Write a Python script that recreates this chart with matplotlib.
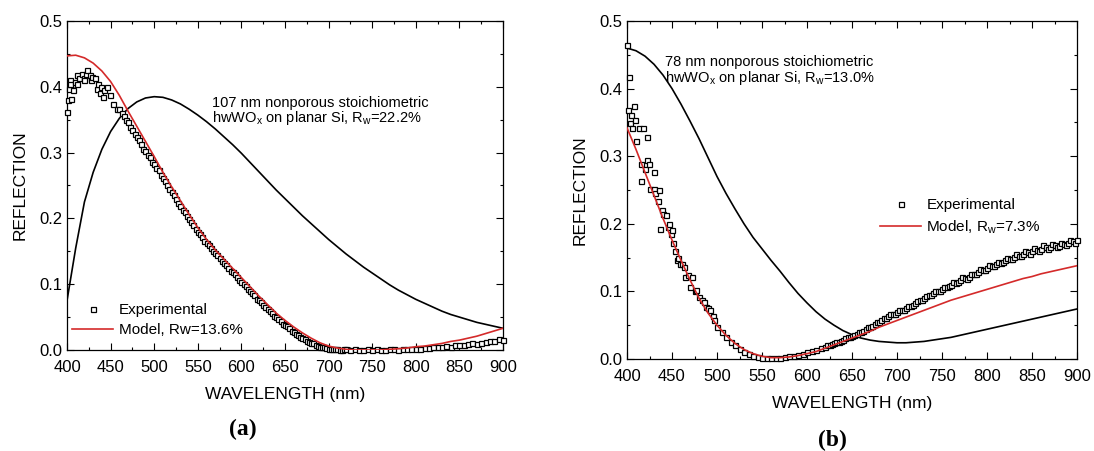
import numpy as np
import matplotlib
matplotlib.use("Agg")
import matplotlib.pyplot as plt
from matplotlib.ticker import MultipleLocator

plt.rcParams['font.family'] = ['Liberation Sans', 'DejaVu Sans']
plt.rcParams['mathtext.default'] = 'regular'

# ---------------- panel (a): 107 nm film ----------------
wl_model_a = list(range(400, 901, 10))
model_a = [0.447, 0.448, 0.444, 0.436, 0.424, 0.408, 0.387, 0.363, 0.340, 0.317,
           0.294, 0.270, 0.248, 0.227, 0.206, 0.186, 0.168, 0.152, 0.138, 0.124,
           0.110, 0.096, 0.082, 0.069, 0.056, 0.045, 0.035, 0.026, 0.018, 0.011,
           0.006, 0.003, 0.001, 0.000, 0.000, 0.000, 0.000, 0.001, 0.002, 0.003,
           0.005, 0.006, 0.008, 0.010, 0.013, 0.015, 0.018, 0.021, 0.025, 0.029,
           0.033]
theory_a = [0.075, 0.155, 0.225, 0.270, 0.305, 0.332, 0.352, 0.367, 0.377, 0.383,
            0.385, 0.384, 0.380, 0.374, 0.366, 0.357, 0.347, 0.336, 0.324, 0.312,
            0.299, 0.285, 0.271, 0.257, 0.243, 0.230, 0.217, 0.204, 0.192, 0.180,
            0.168, 0.157, 0.146, 0.136, 0.126, 0.117, 0.108, 0.099, 0.091, 0.084,
            0.077, 0.071, 0.065, 0.059, 0.054, 0.050, 0.046, 0.042, 0.039, 0.036,
            0.033]

# noisy start, then a dense band every 2.5 nm, then every 5 nm
wl_exp_a = ([400, 401, 402, 403, 404, 405, 407, 409, 411, 412, 414, 417, 419, 420,
             422, 423, 426, 428, 429, 432, 434, 436, 438, 439, 441, 443, 446, 449,
             453, 457]
            + list(np.arange(460, 719, 2.5))
            + list(range(720, 901, 5)))
exp_a = [0.362, 0.380, 0.397, 0.410, 0.405, 0.381, 0.395, 0.408, 0.418, 0.405,
         0.413, 0.420, 0.413, 0.410, 0.419, 0.425, 0.418, 0.410, 0.415, 0.413,
         0.397, 0.405, 0.390, 0.400, 0.385, 0.395, 0.400, 0.387, 0.374, 0.367,
         # 460 - 717.5
         0.366, 0.360, 0.356, 0.350, 0.346, 0.339, 0.335, 0.328,
         0.324, 0.319, 0.313, 0.306, 0.302, 0.296, 0.293, 0.286,
         0.283, 0.277, 0.273, 0.266, 0.262, 0.257, 0.251, 0.244,
         0.240, 0.235, 0.229, 0.223, 0.219, 0.213, 0.209, 0.203,
         0.199, 0.195, 0.190, 0.184, 0.180, 0.177, 0.172, 0.166,
         0.163, 0.159, 0.155, 0.150, 0.147, 0.144, 0.140, 0.135,
         0.132, 0.129, 0.125, 0.120, 0.118, 0.115, 0.111, 0.106,
         0.104, 0.101, 0.097, 0.092, 0.090, 0.087, 0.083, 0.078,
         0.076, 0.073, 0.069, 0.065, 0.063, 0.059, 0.056, 0.052,
         0.050, 0.047, 0.044, 0.040, 0.038, 0.036, 0.033, 0.029,
         0.027, 0.025, 0.023, 0.020, 0.018, 0.016, 0.014, 0.012,
         0.011, 0.010, 0.008, 0.006, 0.005, 0.005, 0.004, 0.003,
         0.002, 0.002, 0.001, 0.001, 0.001, 0.000, 0.000, 0.001,
         # 720 - 900
         0.001, 0.000, 0.001, 0.000, 0.000, 0.001, 0.000, 0.001,
         0.000, 0.000, 0.001, 0.001, 0.000, 0.001, 0.002, 0.001,
         0.002, 0.002, 0.003, 0.003, 0.004, 0.004, 0.005, 0.006,
         0.005, 0.007, 0.007, 0.008, 0.009, 0.010, 0.009, 0.011,
         0.012, 0.013, 0.014, 0.016, 0.015]

# ---------------- panel (b): 78 nm film ----------------
wl_model_b = list(range(400, 901, 10))
model_b = [0.342, 0.310, 0.276, 0.242, 0.208, 0.176, 0.146, 0.117, 0.090, 0.068,
           0.050, 0.035, 0.023, 0.014, 0.008, 0.004, 0.002, 0.002, 0.003, 0.005,
           0.008, 0.011, 0.016, 0.021, 0.026, 0.031, 0.036, 0.041, 0.047, 0.052,
           0.057, 0.062, 0.067, 0.072, 0.077, 0.082, 0.087, 0.091, 0.095, 0.099,
           0.103, 0.107, 0.111, 0.115, 0.119, 0.122, 0.126, 0.129, 0.132, 0.135,
           0.138]
theory_b = [0.460, 0.456, 0.448, 0.436, 0.420, 0.400, 0.377, 0.352, 0.326, 0.298,
            0.270, 0.245, 0.222, 0.200, 0.180, 0.163, 0.146, 0.130, 0.113, 0.097,
            0.083, 0.070, 0.059, 0.050, 0.042, 0.036, 0.031, 0.028, 0.026, 0.025,
            0.024, 0.024, 0.025, 0.026, 0.028, 0.030, 0.032, 0.035, 0.038, 0.041,
            0.044, 0.047, 0.050, 0.053, 0.056, 0.059, 0.062, 0.065, 0.068, 0.071,
            0.074]

wl_exp_b = ([400, 401, 402, 403, 404, 405, 408, 409, 410, 413, 416, 416, 418, 420,
             422, 422, 424, 426, 430, 430, 431, 434, 435, 437, 439, 440, 443, 446,
             447, 449, 450, 451, 453, 455, 457, 459, 461, 463, 464, 468, 470, 472,
             475, 477, 480, 483, 485, 488, 490, 492, 495, 497]
            + list(range(500, 616, 5))
            + list(np.arange(620, 901, 2.5)))
exp_b = [0.465, 0.369, 0.417, 0.349, 0.361, 0.342, 0.375, 0.354, 0.323, 0.342,
         0.288, 0.264, 0.342, 0.281, 0.329, 0.294, 0.288, 0.251, 0.276, 0.252,
         0.245, 0.233, 0.250, 0.192, 0.220, 0.215, 0.213, 0.196, 0.200, 0.185,
         0.191, 0.171, 0.160, 0.147, 0.150, 0.141, 0.140, 0.136, 0.121, 0.124,
         0.107, 0.121, 0.100, 0.102, 0.092, 0.087, 0.085, 0.077, 0.075, 0.072,
         0.063, 0.058,
         # 500 - 615
         0.048, 0.040, 0.032, 0.025, 0.020, 0.015, 0.011, 0.008, 0.005, 0.003,
         0.002, 0.001, 0.002, 0.001, 0.002, 0.003, 0.004, 0.005, 0.006, 0.008,
         0.010, 0.012, 0.013, 0.016,
         # 620 - 900
         0.018, 0.020, 0.020, 0.022, 0.023, 0.025, 0.025, 0.027,
         0.028, 0.031, 0.032, 0.032, 0.034, 0.036, 0.037, 0.040,
         0.040, 0.042, 0.044, 0.047, 0.048, 0.049, 0.052, 0.055,
         0.055, 0.058, 0.060, 0.060, 0.063, 0.066, 0.066, 0.067,
         0.069, 0.072, 0.072, 0.073, 0.076, 0.079, 0.079, 0.080,
         0.083, 0.086, 0.087, 0.087, 0.090, 0.093, 0.094, 0.094,
         0.097, 0.101, 0.100, 0.101, 0.104, 0.107, 0.106, 0.108,
         0.110, 0.114, 0.113, 0.114, 0.117, 0.121, 0.120, 0.119,
         0.122, 0.126, 0.126, 0.126, 0.129, 0.133, 0.131, 0.132,
         0.135, 0.139, 0.137, 0.137, 0.140, 0.144, 0.142, 0.143,
         0.146, 0.150, 0.148, 0.148, 0.151, 0.155, 0.153, 0.152,
         0.155, 0.160, 0.158, 0.156, 0.160, 0.164, 0.161, 0.160,
         0.163, 0.168, 0.165, 0.163, 0.166, 0.170, 0.168, 0.165,
         0.167, 0.172, 0.170, 0.168, 0.172, 0.176, 0.174, 0.172,
         0.176]

red = '#d42a2a'


def style_axes(ax):
    ax.set_xlim(400, 900)
    ax.set_ylim(0, 0.5)
    ax.xaxis.set_major_locator(MultipleLocator(50))
    ax.xaxis.set_minor_locator(MultipleLocator(25))
    ax.yaxis.set_major_locator(MultipleLocator(0.1))
    ax.yaxis.set_minor_locator(MultipleLocator(0.05))
    ax.yaxis.set_major_formatter(plt.FormatStrFormatter('%.1f'))
    ax.tick_params(which='both', direction='in', top=True, right=True,
                   labelsize=12, width=0.8)
    ax.tick_params(axis='x', which='major', pad=7)
    ax.tick_params(axis='y', which='major', pad=3)
    ax.tick_params(which='major', length=5)
    ax.tick_params(which='minor', length=2.5)
    for s in ax.spines.values():
        s.set_linewidth(0.9)
    ax.set_ylabel('REFLECTION', fontsize=12.5, labelpad=9)
    ax.set_xlabel('WAVELENGTH (nm)', fontsize=12.5, labelpad=9)


fig = plt.figure(figsize=(10.94, 4.51), dpi=100)

ax1 = fig.add_axes([67 / 1094, 1 - 350 / 451, 436 / 1094, 329 / 451])
ax1.plot(wl_model_a, theory_a, color='black', lw=1.2)
ax1.plot(wl_exp_a, exp_a, 's', ms=3.6, mfc='white', mec='black', mew=0.9,
         label='Experimental', clip_on=False, zorder=3)
ax1.plot(wl_model_a, model_a, color=red, lw=1.2, label='Model, Rw=13.6%', zorder=4)
style_axes(ax1)
ax1.text(0.333, 0.751, '107 nm nonporous stoichiometric', transform=ax1.transAxes,
         fontsize=10.5, va='center')
ax1.text(0.333, 0.705, 'hwWO$_x$ on planar Si, R$_w$=22.2%', transform=ax1.transAxes,
         fontsize=10.5, va='center')
ax1.legend(loc='center left', bbox_to_anchor=(0.0115, 0.09), frameon=False,
           fontsize=11, handlelength=2.7, handletextpad=0.35, borderpad=0,
           borderaxespad=0, labelspacing=0.4)

ax2 = fig.add_axes([627 / 1094, 1 - 359 / 451, 450 / 1094, 338 / 451])
ax2.plot(wl_model_b, theory_b, color='black', lw=1.2)
ax2.plot(wl_exp_b, exp_b, 's', ms=3.6, mfc='white', mec='black', mew=0.9,
         label='Experimental', clip_on=False, zorder=3)
ax2.plot(wl_model_b, model_b, color=red, lw=1.2, label='Model, R$_w$=7.3%', zorder=4)
style_axes(ax2)
ax2.text(0.084, 0.879, '78 nm nonporous stoichiometric', transform=ax2.transAxes,
         fontsize=10.5, va='center')
ax2.text(0.084, 0.831, 'hwWO$_x$ on planar Si, R$_w$=13.0%', transform=ax2.transAxes,
         fontsize=10.5, va='center')
ax2.legend(loc='center left', bbox_to_anchor=(0.562, 0.42), frameon=False,
           fontsize=11, handlelength=2.7, handletextpad=0.35, borderpad=0,
           borderaxespad=0, labelspacing=0.4)

fig.text(243 / 1094, 1 - 429 / 451, '(a)', fontsize=17, fontweight='bold',
         family=['Liberation Serif', 'DejaVu Serif'], ha='center', va='center')
fig.text(832 / 1094, 1 - 440 / 451, '(b)', fontsize=17, fontweight='bold',
         family=['Liberation Serif', 'DejaVu Serif'], ha='center', va='center')

fig.savefig('out.png', dpi=100)
